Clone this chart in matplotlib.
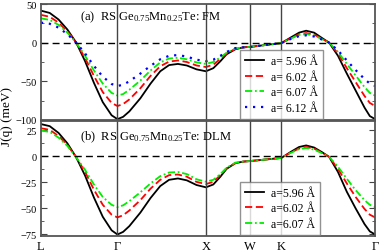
import matplotlib
matplotlib.use("Agg")
import matplotlib.pyplot as plt
from matplotlib.ticker import MultipleLocator

plt.rcParams['font.family'] = ['Liberation Serif', 'DejaVu Serif']
plt.rcParams['mathtext.fontset'] = 'custom'
plt.rcParams['mathtext.rm'] = 'Liberation Serif'
plt.rcParams['mathtext.it'] = 'Liberation Serif:italic'

# path coordinate along L-G-X-W-K-G (units of 2pi/a)
t = [0, 0.1, 0.2, 0.3, 0.4, 0.5, 0.6, 0.7, 0.8, 0.866, 0.93, 1.0, 1.125, 1.24,
     1.35, 1.45, 1.55, 1.65, 1.76, 1.866, 1.95, 2.03, 2.1, 2.2, 2.29, 2.366,
     2.54, 2.72, 2.83, 2.92, 3.0, 3.09, 3.18, 3.26, 3.36, 3.46, 3.56, 3.66,
     3.72, 3.78]
kpos = [0, 0.866, 1.866, 2.366, 2.72, 3.78]
klabels = ['L', r'$\Gamma$', 'X', 'W', 'K', r'$\Gamma$']

# (a) FM
fm_596 = [41.5, 38.5, 30, 17, 0, -24, -52, -77, -94, -99, -96, -89, -72, -53,
          -37, -29, -27.5, -29.5, -34.5, -37, -33, -24, -15, -8.5, -6, -5.5,
          -3, -0.5, 7, 13, 15.5, 13, 6, 0, -17, -40, -62, -84, -95, -99]
fm_602 = [36, 33.5, 26, 14.5, 0, -20, -43, -64, -78, -82, -79.5, -73.5, -59, -43,
          -30.5, -24.5, -23, -25, -29.5, -31.5, -28.5, -21, -14, -8, -6, -5.5,
          -3, -0.5, 6, 11, 12.5, 10.5, 5, 0, -14, -33, -51, -69, -78, -82]
fm_607 = [31.5, 29.5, 23, 13, 0, -17, -36, -53, -65, -68.5, -66.5, -61, -49, -36,
          -25.5, -20.5, -19.5, -21.5, -25.5, -27.5, -25, -19, -13, -7.5, -6, -5.5,
          -3, -0.5, 5.5, 10, 11, 9.5, 4.5, 0, -12, -27.5, -42.5, -57.5, -65, -68.5]
fm_612 = [26, 24.5, 19.5, 11, 0, -14, -30, -44, -53.5, -56, -54.5, -50, -40, -30,
          -21.5, -17, -16, -18, -22, -24, -22, -17, -12, -7, -6, -5.5,
          -3, -0.5, 5, 8.5, 9.5, 8, 4, 0, -10, -23, -35.5, -47, -53, -56]

# (b) DLM
dlm_596 = [31, 29, 22.5, 12.5, -1, -18.5, -39.5, -58, -71, -75, -72.5, -67, -54, -40,
           -28.5, -22.5, -21.2, -23, -27.5, -29.7, -27, -19.5, -12, -6.5, -5, -4.5,
           -3, -1.5, 4.5, 9, 10.5, 8.5, 4, -0.5, -15, -34, -50, -65, -72, -75]
dlm_602 = [27, 25.5, 19.5, 11, -1, -15, -32, -46.5, -56, -58.6, -56.5, -52, -42, -31,
           -22.5, -18, -17.4, -19.5, -24.5, -26.6, -24.5, -18, -11.5, -6.5, -5, -4.5,
           -3, -1.5, 4, 7.5, 9, 7.5, 3.5, -0.5, -12, -26, -39, -50.5, -56, -58.6]
dlm_607 = [24.7, 23.5, 18, 10, -1, -13, -27, -39, -46.5, -48.7, -47, -43, -34.5, -26,
           -19, -15.5, -15, -17, -22, -24.3, -22.5, -17, -11, -6, -5, -4.5,
           -3, -1.5, 3.5, 7, 8, 6.5, 3, -0.5, -10, -21.5, -32.5, -42, -46.5, -48.7]

styles = [('black', '-', 1.3), ('red', (0, (4, 2)), 1.3),
          ('#00ee00', (0, (4, 1.5, 1, 1.5)), 1.3), ('blue', (0, (1, 2.6)), 1.6)]

fig = plt.figure(figsize=(3.82, 2.53), dpi=100)
ax1 = fig.add_axes([0.107, 0.522, 0.875, 0.458])
ax2 = fig.add_axes([0.107, 0.063, 0.875, 0.455])

fm = [(fm_596, 'a= 5.96 Å'), (fm_602, 'a= 6.02 Å'), (fm_607, 'a= 6.07 Å'),
      (fm_612, 'a= 6.12 Å')]
dlm = [(dlm_596, 'a=5.96 Å'), (dlm_602, 'a=6.02 Å'), (dlm_607, 'a=6.07 Å')]

for ax, series in [(ax1, fm), (ax2, dlm)]:
    for (vals, lab), (c, ls, lw) in zip(series, styles):
        ax.plot(t, vals, color=c, linestyle=ls, lw=lw, label=lab)
    ax.axhline(0, color='black', lw=1.0, ls=(0, (5, 3)))
    for k in kpos[1:-1]:
        ax.axvline(k, color='#444444', lw=1.0)
    ax.set_xlim(kpos[0], kpos[-1])
    ax.set_xticks(kpos)
    ax.tick_params(axis='x', length=0, labelsize=9, pad=3)
    ax.tick_params(axis='y', which='both', direction='in', right=True,
                   labelsize=7.5, colors='#444444', labelcolor='black', pad=3)
    ax.tick_params(axis='y', which='major', length=4)
    ax.tick_params(axis='y', which='minor', length=2.5)
    for s in ax.spines.values():
        s.set_color('#555555')
        s.set_linewidth(1.3)
    leg = ax.legend(loc='lower left', bbox_to_anchor=(0.596, 0.012), fontsize=8.5,
                    frameon=True, fancybox=False, edgecolor='#777777',
                    handlelength=1.6, handletextpad=0.6, labelspacing=0.3,
                    borderpad=0.4, borderaxespad=0)
    leg.get_frame().set_linewidth(1.0)

ax1.set_xticklabels([])
ax2.set_xticklabels(klabels)

ax1.set_ylim(-100, 50)
ax1.yaxis.set_major_locator(MultipleLocator(50))
ax1.yaxis.set_minor_locator(MultipleLocator(25))
ax2.set_ylim(-76.5, 34)
ax2.yaxis.set_major_locator(MultipleLocator(25))
ax2.yaxis.set_minor_locator(MultipleLocator(12.5))

ax1.text(0.117, 0.895, '(a)  RS Ge$_{0.75}$Mn$_{0.25}$Te: FM', transform=ax1.transAxes,
         fontsize=9, va='center', ha='left')
ax2.text(0.117, 0.87, '(b)  RS Ge$_{0.75}$Mn$_{0.25}$Te: DLM', transform=ax2.transAxes,
         fontsize=9, va='center', ha='left')

fig.text(0.019, 0.54, 'J(q) (meV)', rotation=90, va='center', ha='center', fontsize=9.5)

fig.savefig('out.png', dpi=100)
